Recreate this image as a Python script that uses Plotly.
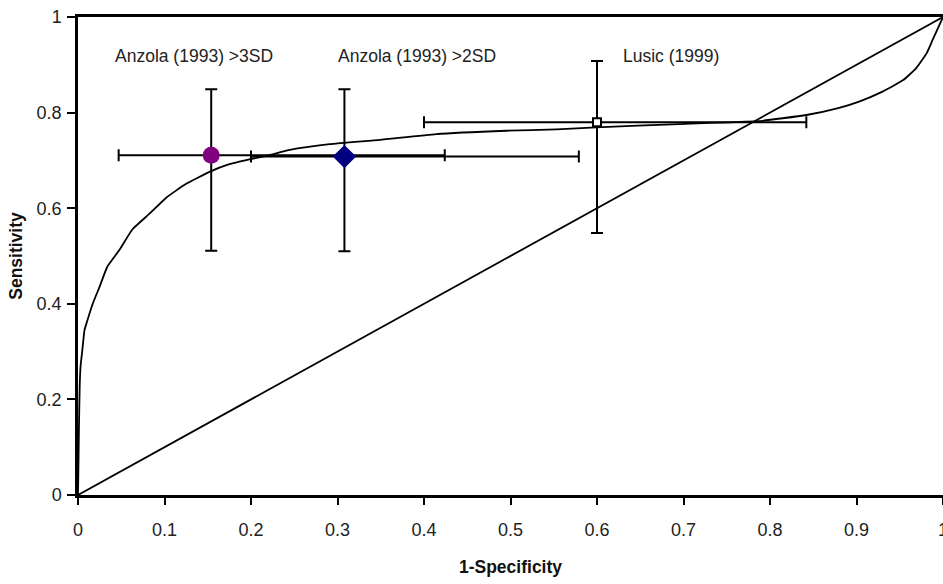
import plotly.graph_objects as go

# ROC curve
roc_x = [0.0, 0.0005, 0.001, 0.002, 0.003, 0.005, 0.0075, 0.011, 0.017, 0.025, 0.034,
         0.048, 0.063, 0.083, 0.102, 0.125, 0.152, 0.175, 0.198, 0.221, 0.245, 0.291,
         0.349, 0.414, 0.495, 0.553, 0.599, 0.695, 0.786, 0.842, 0.880, 0.903, 0.930,
         0.954, 0.969, 0.981, 0.988, 1.0]
roc_y = [0.0, 0.06, 0.13, 0.23, 0.27, 0.303, 0.345, 0.366, 0.40, 0.436, 0.478,
         0.513, 0.556, 0.589, 0.622, 0.651, 0.676, 0.692, 0.702, 0.711, 0.722, 0.734,
         0.743, 0.755, 0.762, 0.765, 0.769, 0.776, 0.782, 0.795, 0.810, 0.823, 0.844,
         0.868, 0.893, 0.924, 0.952, 1.0]

diag_x = [0, 1]
diag_y = [0, 1]

# Studies
study_names = ["Anzola (1993) >3SD", "Anzola (1993) >2SD", "Lusic (1999)"]
study_x = [0.154, 0.308, 0.600]
study_y = [0.711, 0.708, 0.780]
x_err_minus = [0.107, 0.108, 0.200]
x_err_plus = [0.270, 0.271, 0.242]
y_err_minus = [0.200, 0.198, 0.232]
y_err_plus = [0.138, 0.141, 0.128]
label_x = [0.134, 0.392, 0.686]
label_y = [0.919, 0.919, 0.919]

x_ticks = [0, 0.1, 0.2, 0.3, 0.4, 0.5, 0.6, 0.7, 0.8, 0.9, 1]
x_tick_text = ["0", "0.1", "0.2", "0.3", "0.4", "0.5", "0.6", "0.7", "0.8", "0.9", "1"]
y_ticks = [0, 0.2, 0.4, 0.6, 0.8, 1]
y_tick_text = ["0", "0.2", "0.4", "0.6", "0.8", "1"]

FONT = "Liberation Sans, Arial, sans-serif"
TXT = "#222222"

fig = go.Figure()
fig.add_trace(go.Scatter(x=roc_x, y=roc_y, mode="lines",
                         line=dict(color="black", width=1.8, shape="spline", smoothing=0.4),
                         showlegend=False, hoverinfo="skip"))
fig.add_trace(go.Scatter(x=diag_x, y=diag_y, mode="lines",
                         line=dict(color="black", width=1.8), showlegend=False,
                         hoverinfo="skip"))

marker_styles = [
    dict(symbol="circle", size=17, color="#800080", line=dict(width=0)),
    dict(symbol="diamond", size=18, color="#000080", line=dict(width=0)),
    dict(symbol="square", size=8, color="white", line=dict(color="black", width=2)),
]
for i in range(3):
    fig.add_trace(go.Scatter(
        x=[study_x[i]], y=[study_y[i]], mode="markers",
        marker=marker_styles[i], showlegend=False, name=study_names[i],
        error_x=dict(type="data", symmetric=False, array=[x_err_plus[i]],
                     arrayminus=[x_err_minus[i]], color="black", thickness=2, width=6),
        error_y=dict(type="data", symmetric=False, array=[y_err_plus[i]],
                     arrayminus=[y_err_minus[i]], color="black", thickness=2, width=6),
    ))

for i in range(3):
    fig.add_annotation(x=label_x[i], y=label_y[i], text=study_names[i],
                       showarrow=False, xanchor="center", yanchor="middle",
                       font=dict(family=FONT, size=17.5, color=TXT))

fig.update_layout(
    width=943, height=584,
    margin=dict(l=78, r=0, t=17, b=89),
    paper_bgcolor="white", plot_bgcolor="white",
    font=dict(family=FONT, color=TXT),
)
fig.update_xaxes(range=[0, 1], tickvals=x_ticks, ticktext=x_tick_text,
                 showgrid=False, zeroline=False, showline=True, linecolor="black",
                 linewidth=2.5, mirror=True, ticks="outside", ticklen=7, tickwidth=2,
                 tickcolor="black", ticklabelstandoff=10, ticklabeloverflow="allow",
                 tickfont=dict(family=FONT, size=18, color=TXT),
                 title=dict(text="<b>1-Specificity</b>", standoff=22,
                            font=dict(family=FONT, size=17.5, color="#111111")),
                 automargin=False)
fig.update_yaxes(range=[0, 1], tickvals=y_ticks, ticktext=y_tick_text,
                 showgrid=False, zeroline=False, showline=True, linecolor="black",
                 linewidth=2.5, ticks="outside", ticklen=8, tickwidth=2,
                 tickcolor="black", ticklabelstandoff=2,
                 tickfont=dict(family=FONT, size=18, color=TXT),
                 title=dict(text="<b>Sensitivity</b>", standoff=10,
                            font=dict(family=FONT, size=17.5, color="#111111")),
                 automargin=False)

fig.write_html("out.html", config={"displayModeBar": False},
               post_script="document.body.style.margin='0';document.body.style.overflow='hidden';")
